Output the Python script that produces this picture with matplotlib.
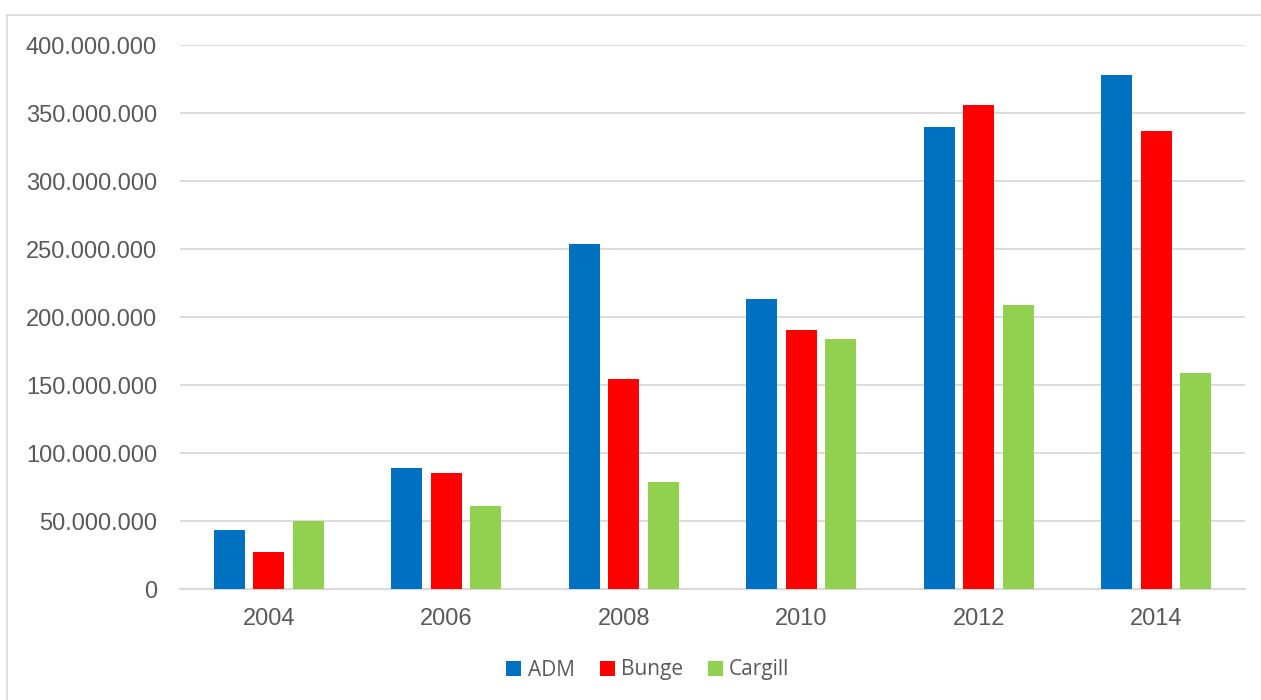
import matplotlib
matplotlib.use("Agg")
import matplotlib.pyplot as plt
from matplotlib.lines import Line2D
from matplotlib.ticker import FuncFormatter
import numpy as np

years = ["2004", "2006", "2008", "2010", "2012", "2014"]
series_names = ["ADM", "Bunge", "Cargill"]
adm = [43.7e6, 88.8e6, 253.7e6, 213.2e6, 339.5e6, 378.2e6]
bunge = [27.5e6, 85.6e6, 154.7e6, 190.2e6, 356.2e6, 336.5e6]
cargill = [49.8e6, 60.8e6, 79.0e6, 184.1e6, 209.1e6, 158.8e6]
colors = ["#0070C0", "#FF0000", "#92D050"]

W, H = 1261, 700
fig = plt.figure(figsize=(W / 100, H / 100), dpi=100)
fig.patch.set_facecolor("white")

# outer frame (left and top)
fc = "#D9D9D9"
fig.add_artist(Line2D([7 / W, 7 / W], [0, 1 - 15 / H], color=fc, lw=1.2, transform=fig.transFigure))
fig.add_artist(Line2D([7 / W, 1], [1 - 15 / H, 1 - 15 / H], color=fc, lw=1.2, transform=fig.transFigure))

ax = fig.add_axes([180 / W, (H - 589) / H, (1245 - 180) / W, (589 - 45) / H])
x = np.arange(len(years))
bw = 0.175
off = 0.2225
for i, (vals, c, name) in enumerate(zip([adm, bunge, cargill], colors, series_names)):
    ax.bar(x + (i - 1) * off, vals, width=bw, color=c, label=name, zorder=3, linewidth=0)

ax.set_xlim(-0.5, len(years) - 0.5)
ax.set_ylim(0, 400e6)
ax.set_yticks(np.arange(0, 400e6 + 1, 50e6))
ax.yaxis.set_major_formatter(FuncFormatter(lambda v, p: f"{int(v):,}".replace(",", ".")))
ax.set_xticks(x)
ax.set_xticklabels(years)

for s in ["top", "right", "left"]:
    ax.spines[s].set_visible(False)
ax.spines["bottom"].set_color(fc)
ax.spines["bottom"].set_linewidth(1.5)
ax.grid(axis="y", color=fc, linewidth=1.3, zorder=0)
ax.set_axisbelow(True)
ax.tick_params(axis="both", length=0, labelsize=17, labelcolor="#595959")
ax.tick_params(axis="y", pad=16.5)
ax.tick_params(axis="x", pad=14)
for lab in ax.get_xticklabels() + ax.get_yticklabels():
    lab.set_fontfamily("Liberation Sans")

leg = ax.legend(loc="center", bbox_to_anchor=(648 / W, 1 - 670 / H), bbox_transform=fig.transFigure,
                ncol=3, frameon=False, handlelength=0.72, handleheight=0.72, handletextpad=0.3,
                columnspacing=1.2, prop={"family": "Open Sans", "size": 15})
for t in leg.get_texts():
    t.set_color("#595959")

fig.savefig("out.png", dpi=100, facecolor="white")
